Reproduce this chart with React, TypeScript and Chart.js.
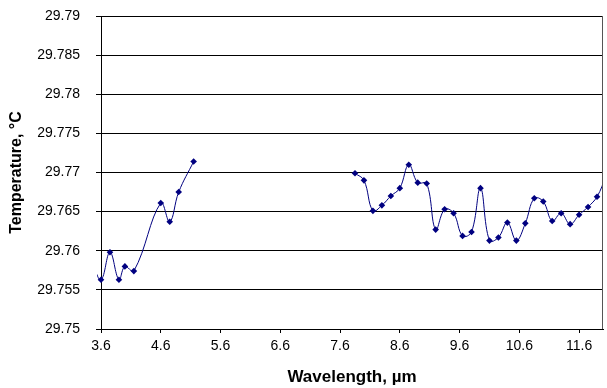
import React, { useEffect, useRef } from "react";
import { Chart, registerables } from "chart.js";

Chart.register(...registerables);

// Left segment (first point lies just outside the axis and is clipped)
const LEFT_X = [3.45, 3.6, 3.75, 3.9, 4.0, 4.15, 4.6, 4.75, 4.9, 5.15];
const LEFT_Y = [29.7585, 29.7563, 29.7598, 29.7563, 29.758, 29.7574, 29.7661, 29.7637, 29.7675, 29.7714];

// Right segment (last point lies just outside the plot and is clipped)
const RIGHT_X = [
  7.85, 8.0, 8.15, 8.3, 8.45, 8.6, 8.75, 8.9, 9.05, 9.2, 9.35, 9.5, 9.65, 9.8, 9.95,
  10.1, 10.25, 10.4, 10.55, 10.7, 10.85, 11.0, 11.15, 11.3, 11.45, 11.6, 11.75, 11.9, 12.05,
];
const RIGHT_Y = [
  29.7699, 29.769, 29.7651, 29.7658, 29.767, 29.768, 29.771, 29.7687, 29.7686, 29.7627,
  29.7653, 29.7648, 29.7619, 29.7624, 29.768, 29.7613, 29.7617, 29.7636, 29.7613, 29.7635,
  29.7667, 29.7663, 29.7638, 29.7648, 29.7634, 29.7646, 29.7656, 29.7669, 29.7695,
];

const X_TICKS = [3.6, 4.6, 5.6, 6.6, 7.6, 8.6, 9.6, 10.6, 11.6];
const Y_TICKS = [29.75, 29.755, 29.76, 29.765, 29.77, 29.775, 29.78, 29.785, 29.79];
const X_MIN = 3.6;
const X_MAX = 12.0;
const X_TITLE = "Wavelength, µm";
const Y_TITLE = "Temperature, °C";

const NAVY = "#000080";

const rightBorder = {
  id: "rightBorder",
  afterDraw(chart: any) {
    const { ctx, chartArea } = chart;
    ctx.save();
    ctx.strokeStyle = "#555";
    ctx.lineWidth = 1;
    ctx.beginPath();
    ctx.moveTo(Math.round(chartArea.right) - 0.5, chartArea.top);
    ctx.lineTo(Math.round(chartArea.right) - 0.5, chartArea.bottom);
    ctx.stroke();
    ctx.restore();
  },
};

export default function App() {
  const ref = useRef<HTMLCanvasElement>(null);

  useEffect(() => {
    if (!ref.current) return;
    Chart.defaults.font.family = "'Liberation Sans', Arial, sans-serif";
    const mk = (xs: number[], ys: number[]) => xs.map((x, i) => ({ x, y: ys[i] }));
    const ds = (data: any[]) => ({
      data,
      borderColor: NAVY,
      backgroundColor: NAVY,
      borderWidth: 1,
      tension: 0.4,
      pointStyle: "rectRot" as const,
      pointRadius: 3.3,
      pointBorderWidth: 0,
      pointBackgroundColor: NAVY,
      clip: { left: 4, top: 0, right: 0, bottom: 0 },
    });
    const chart = new Chart(ref.current, {
      type: "line",
      data: {
        datasets: [ds(mk(LEFT_X, LEFT_Y)), ds(mk(RIGHT_X, RIGHT_Y))],
      },
      plugins: [rightBorder],
      options: {
        animation: false,
        responsive: false,
        layout: { padding: { top: 16, right: 2, left: 0, bottom: 0 } },
        plugins: { legend: { display: false }, tooltip: { enabled: false } },
        scales: {
          x: {
            type: "linear",
            min: X_MIN,
            max: X_MAX,
            afterBuildTicks: (s: any) => {
              s.ticks = X_TICKS.map((v) => ({ value: v }));
            },
            afterFit: (s: any) => {
              s.height = 59;
            },
            ticks: {
              autoSkip: false,
              maxRotation: 0,
              color: "#000",
              font: { size: 14 },
              padding: 5,
              callback: (v: any) => Number(v).toFixed(1),
            },
            grid: { drawOnChartArea: false, drawTicks: true, tickLength: 4, color: "#000" },
            border: { color: "#000", width: 1 },
            title: {
              display: true,
              text: X_TITLE,
              color: "#000",
              font: { size: 17, weight: "bold" },
              padding: { top: 0, bottom: 0 },
            },
          },
          y: {
            type: "linear",
            min: Y_TICKS[0],
            max: Y_TICKS[Y_TICKS.length - 1],
            afterBuildTicks: (s: any) => {
              s.ticks = Y_TICKS.map((v) => ({ value: v }));
            },
            afterFit: (s: any) => {
              s.width = 101;
              s.paddingTop = 0;
              s.paddingBottom = 0;
            },
            ticks: {
              color: "#000",
              font: { size: 14 },
              padding: 16,
              callback: (v: any) =>
                Number(v).toFixed(3).replace(/0+$/, "").replace(/\.$/, ""),
            },
            grid: { color: "#000", lineWidth: 1, drawTicks: true, tickLength: 5 },
            border: { color: "#000", width: 1 },
            title: {
              display: true,
              text: Y_TITLE,
              color: "#000",
              font: { size: 16, weight: "bold" },
              padding: { top: 7, bottom: 0 },
            },
          },
        },
      },
    });
    return () => chart.destroy();
  }, []);

  return (
    <div style={{ position: "absolute", left: 0, top: 0, width: 607, height: 388, background: "#fff" }}>
      <canvas ref={ref} width={607} height={388} />
    </div>
  );
}
